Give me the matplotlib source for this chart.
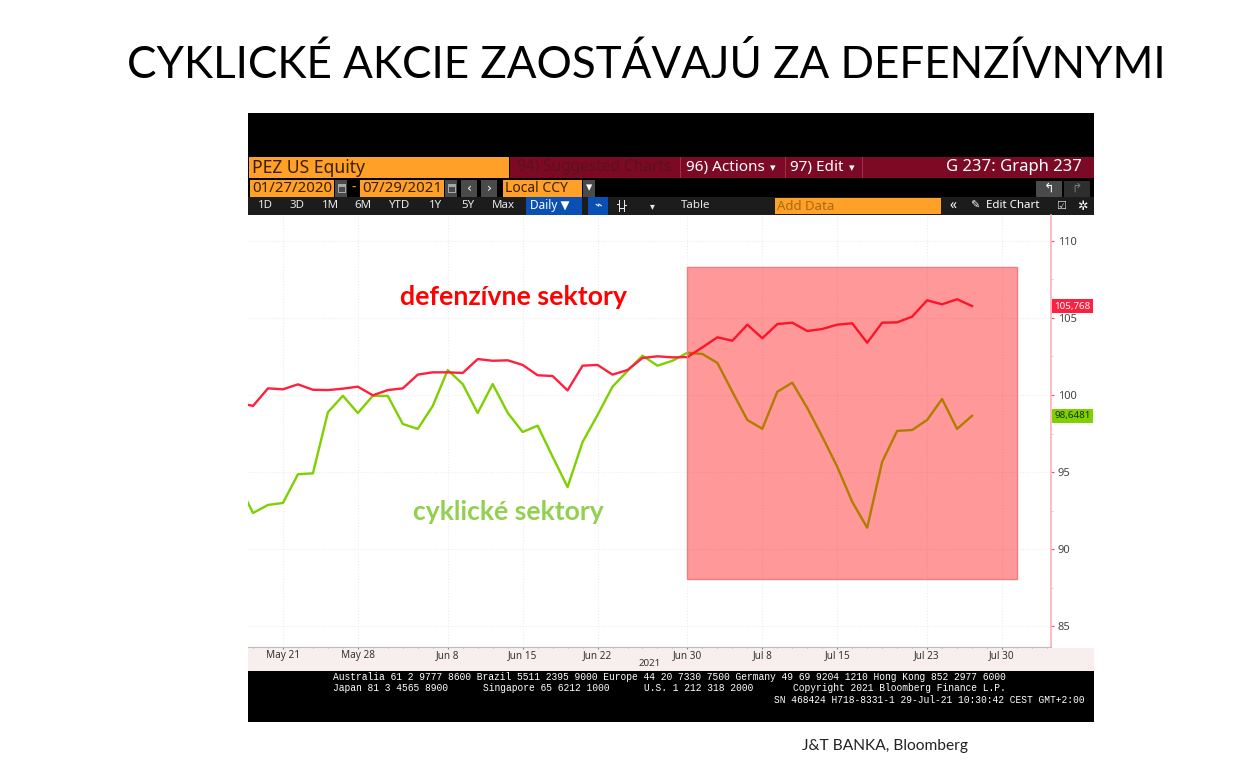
import numpy as np
import matplotlib
matplotlib.use('Agg')
import matplotlib.pyplot as plt
from matplotlib.patches import Rectangle

W, H = 1256, 764

# values, first point lies just left of the visible area
defensive = [99.5, 99.29, 100.43, 100.37, 100.69, 100.34, 100.32, 100.41, 100.54, 99.98,
             100.32, 100.43, 101.32, 101.47, 101.47, 101.43, 102.33, 102.22, 102.25, 101.95,
             101.28, 101.23, 100.30, 101.90, 101.95, 101.32, 101.62, 102.40, 102.51, 102.44,
             102.46, 103.09, 103.74, 103.52, 104.56, 103.68, 104.60, 104.69, 104.15, 104.28,
             104.56, 104.65, 103.39, 104.69, 104.71, 105.08, 106.14, 105.88, 106.21, 105.77]
cyclical = [94.3, 92.35, 92.87, 93.0, 94.86, 94.92, 98.88, 99.95, 98.83, 99.95,
            99.94, 98.12, 97.80, 99.29, 101.62, 100.71, 98.83, 100.71, 98.85, 97.60,
            98.01, 96.0, 94.03, 96.95, 98.70, 100.54, 101.56, 102.55, 101.90, 102.22,
            102.74, 102.66, 102.08, 100.21, 98.38, 97.81, 100.21, 100.80, 99.16, 97.30,
            95.35, 93.08, 91.39, 95.67, 97.67, 97.73, 98.38, 99.74, 97.80, 98.65]
x_pos = np.arange(-1, 49)

date_pos = [2, 7, 13, 18, 23, 29, 34, 39, 45, 50]
date_labels = ['May 21', 'May 28', 'Jun 8', 'Jun 15', 'Jun 22', 'Jun 30', 'Jul 8', 'Jul 15', 'Jul 23', 'Jul 30']
y_ticks = [85, 90, 95, 100, 105, 110]
y_minor = [87.5, 92.5, 97.5, 102.5, 107.5]
x_minor = np.arange(0, 54)
highlight_x = (28.97, 51.0)
highlight_y = (88.07, 108.3)

RED = '#ff2040'
GREEN = '#7ed000'
ORANGE = '#ffa028'
WINE = '#7c0a24'
BAR = '#1c1c1c'
GREY = '#4a4a4a'
ui_font = 'Noto Sans'

fig = plt.figure(figsize=(W / 100, H / 100), dpi=100, facecolor='white')

# background layer in pixel coordinates for the terminal window
bg = fig.add_axes([0, 0, 1, 1])
bg.set_xlim(0, W)
bg.set_ylim(H, 0)
bg.axis('off')


def box(x0, y0, x1, y1, color):
    bg.add_patch(Rectangle((x0, y0), x1 - x0, y1 - y0, fc=color, ec='none'))


def label(x, y, s, color='#e8e8e8', size=8.5, ha='left', family=ui_font, weight='normal'):
    bg.text(x, y, s, color=color, fontsize=size, ha=ha, va='center', family=family, weight=weight)


box(248, 113, 1094, 215, 'black')
box(248, 648, 1094, 671, '#f8eeee')
box(248, 671, 1094, 722, 'black')

# top row
box(249, 157, 509, 178, ORANGE)
box(510, 157, 1094, 178, WINE)
for sx in [680, 785, 862]:
    box(sx, 157, sx + 1, 178, '#a03048')
label(252, 168, 'PEZ US Equity', color='#3a2000', size=12.6)
label(517, 167, '94) Suggested Charts', color='#5c1020', size=11.1)
label(686, 167, '96) Actions', color='white', size=11)
label(770, 168, '▾', color='white', size=8, family='DejaVu Sans')
label(790, 167, '97) Edit', color='white', size=11)
label(849, 168, '▾', color='white', size=8, family='DejaVu Sans')
label(1082, 167, 'G 237: Graph 237', color='white', size=12, ha='right')

# date row
for x0, x1, s in [(250, 334, '01/27/2020'), (360, 444, '07/29/2021')]:
    box(x0, 180, x1, 197, ORANGE)
    label(x0 + 2, 188, s, color='#3a2000', size=10.8)
box(503, 180, 582, 197, ORANGE)
label(505, 188, 'Local CCY', color='#3a2000', size=10)
for x0, x1, s in [(335, 347, ''), (445, 457, ''), (461, 477, '‹'), (481, 497, '›'), (583, 595, '▾')]:
    box(x0, 180, x1, 197, GREY)
    label((x0 + x1) / 2, 188, s, color='white', size=9, ha='center', family='DejaVu Sans')
# small calendar icons
for ix in [337, 447]:
    box(ix + 1, 184, ix + 9, 193, '#a8a8a8')
    box(ix + 2, 187, ix + 8, 192, GREY)
label(354, 188, '-', color=ORANGE, size=10, ha='center')
box(1036, 181, 1062, 197, GREY)
box(1064, 181, 1090, 197, '#2e2e2e')
label(1049, 188, '↰', color='white', size=9, ha='center', family='DejaVu Sans')
label(1077, 188, '↱', color='#777777', size=9, ha='center', family='DejaVu Sans')

# button row
box(248, 197, 1094, 215, BAR)
for bx, s in [(265, '1D'), (297, '3D'), (331, '1M'), (363, '6M'), (400, 'YTD'), (436, '1Y'), (468, '5Y'), (503, 'Max'), (696, 'Table')]:
    label(bx, 206, s, size=8.3, ha='center', weight='bold')
box(526, 197, 582, 215, '#0a50b4')
label(530, 206, 'Daily ▼', color='white', size=8.5, family=['Noto Sans', 'DejaVu Sans'], weight='bold')
box(588, 197, 608, 215, '#0a50b4')
label(598, 206, '⌁', color='white', size=9, ha='center', family='DejaVu Sans')
# bar chart icon
box(619, 200, 620, 212, '#e8e8e8')
box(624, 200, 625, 212, '#e8e8e8')
box(617, 204, 619, 205, '#e8e8e8')
box(620, 208, 624, 209, '#e8e8e8')
box(625, 205, 627, 206, '#e8e8e8')
label(652, 206, '▾', size=7, ha='center', family='DejaVu Sans')
box(775, 198, 941, 214, ORANGE)
label(777, 206, 'Add Data', color='#a86a10', size=9.5)
label(953, 206, '«', color='white', size=10, ha='center', weight='bold')
label(975, 206, '✎', color='white', size=8, ha='center', family='DejaVu Sans')
label(986, 206, 'Edit Chart', color='white', size=8.3, weight='bold')
label(1061, 206, '☑', color='#dddddd', size=8, ha='center', family='DejaVu Sans')
label(1082, 206, '✲', color='white', size=9, ha='center', family='DejaVu Sans')

# footer
mono = 'Liberation Mono'
label(333, 677, 'Australia 61 2 9777 8600 Brazil 5511 2395 9000 Europe 44 20 7330 7500 Germany 49 69 9204 1210 Hong Kong 852 2977 6000', color='white', size=6.9, family=mono)
label(333, 688, 'Japan 81 3 4565 8900', color='white', size=6.9, family=mono)
label(483, 688, 'Singapore 65 6212 1000', color='white', size=6.9, family=mono)
label(644, 688, 'U.S. 1 212 318 2000', color='white', size=6.9, family=mono)
label(793, 688, 'Copyright 2021 Bloomberg Finance L.P.', color='white', size=6.9, family=mono)
label(1085, 700, 'SN 468424 H718-8331-1 29-Jul-21 10:30:42 CEST GMT+2:00', color='white', size=6.9, ha='right', family=mono)
label(650, 664, '2021', color='#333333', size=7, ha='center')

# price chart, placed on its pixel box
ax = fig.add_axes([248 / W, 1 - 647 / H, (1051 - 248) / W, (647 - 215) / H])
ax.set_xlim((248 - 253) / 14.98, (1051 - 253) / 14.98)
ax.set_ylim(100 - 252 / 15.42, 100 + 180 / 15.42)
ax.plot(x_pos, defensive, color=RED, lw=1.7, zorder=3)
ax.plot(x_pos, cyclical, color=GREEN, lw=1.7, zorder=2)
ax.add_patch(Rectangle((highlight_x[0], highlight_y[0]), highlight_x[1] - highlight_x[0],
                       highlight_y[1] - highlight_y[0], fc=(1, 0, 0, 0.4), ec='#f47c80', lw=1, zorder=4))

ax.yaxis.tick_right()
ax.set_yticks(y_ticks)
ax.set_yticks(y_minor, minor=True)
ax.set_xticks(date_pos)
ax.set_xticklabels(date_labels)
ax.set_xticks(x_minor, minor=True)
ax.grid(True, which='major', color='#ececec', ls=':', lw=0.8)
ax.tick_params(axis='y', which='major', length=2, color='#ff4060', labelsize=8, labelcolor='#444444', pad=3)
ax.tick_params(axis='y', which='minor', length=1.5, color='#ffb0b8')
ax.tick_params(axis='x', which='major', length=1.5, color='#888888', labelsize=7.2, labelcolor='#333333', pad=0.5, direction='out')
ax.tick_params(axis='x', which='minor', length=1, color='#999999', direction='out')
for t in ax.get_xticklabels() + ax.get_yticklabels():
    t.set_family(ui_font)
for side in ['top', 'left']:
    ax.spines[side].set_visible(False)
ax.spines['right'].set_color('#ffb0b8')
ax.spines['right'].set_linewidth(1.2)
ax.spines['bottom'].set_color('#bbbbbb')

# last value tags on the right axis
trans = ax.get_yaxis_transform()
ax.text(1.004, defensive[-1], '105,768', transform=trans, color='white', fontsize=7, va='center', ha='left', family=ui_font,
        bbox=dict(boxstyle='square,pad=0.25', fc=RED, ec='none'), clip_on=False, zorder=6)
ax.text(1.004, cyclical[-1], '98,6481', transform=trans, color='#1c3000', fontsize=7, va='center', ha='left', family=ui_font,
        bbox=dict(boxstyle='square,pad=0.25', fc=GREEN, ec='none'), clip_on=False, zorder=6)

# slide text
fig.text(646 / W, 1 - 65 / H, 'CYKLICKÉ AKCIE ZAOSTÁVAJÚ ZA DEFENZÍVNYMI', fontsize=31.7, family='Lato', ha='center', va='center', color='black')
fig.text(514 / W, 1 - 297 / H, 'defenzívne sektory', fontsize=19.3, family='Lato', weight='bold', ha='center', va='center', color='#ff0000')
fig.text(508 / W, 1 - 512 / H, 'cyklické sektory', fontsize=19.1, family='Lato', weight='bold', ha='center', va='center', color='#92d050')
fig.text(885 / W, 1 - 746 / H, 'J&T BANKA, Bloomberg', fontsize=11.2, family='Lato', ha='center', va='center', color='#222222')

fig.savefig('out.png', dpi=100)
